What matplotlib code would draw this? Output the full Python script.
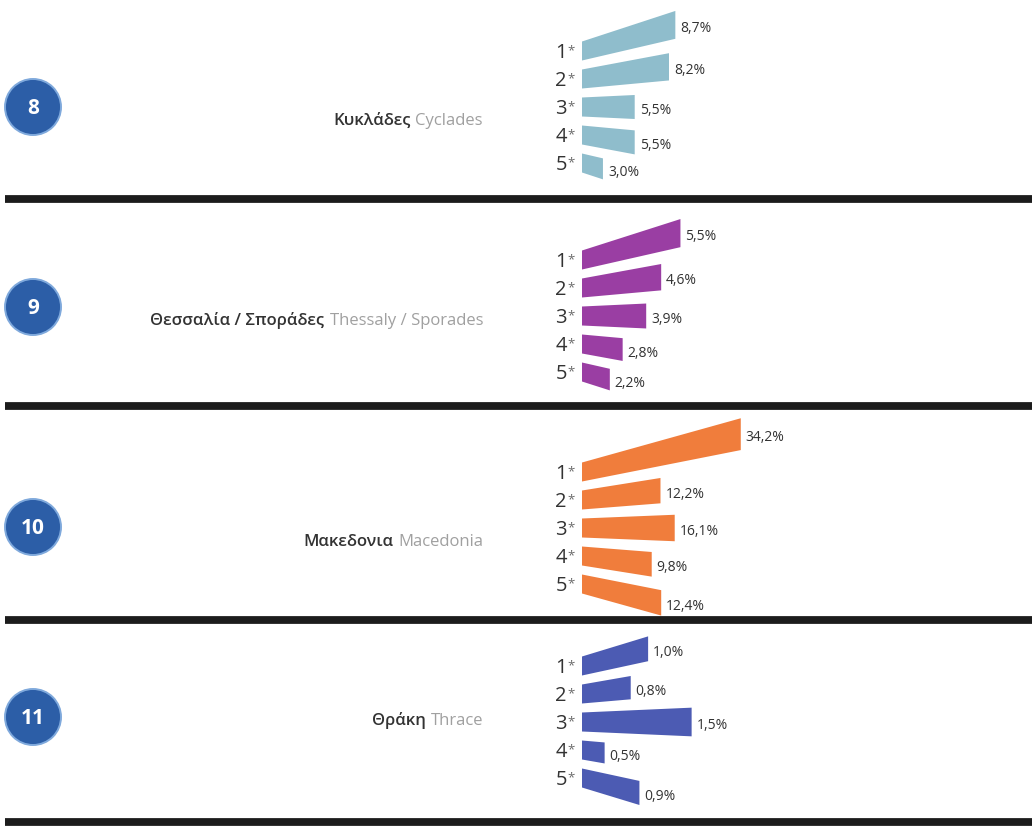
import matplotlib
matplotlib.use("Agg")
import matplotlib.pyplot as plt
from matplotlib.patches import Polygon, Circle

# ---- data -------------------------------------------------------------
region_ids = ["8", "9", "10", "11"]
regions_el = ["Κυκλάδες", "Θεσσαλία / Σποράδες", "Μακεδονια", "Θράκη"]
regions_en = ["Cyclades", "Thessaly / Sporades", "Macedonia", "Thrace"]
star_labels = ["1", "2", "3", "4", "5"]

share_cyclades = [8.7, 8.2, 5.5, 5.5, 3.0]
share_thessaly = [5.5, 4.6, 3.9, 2.8, 2.2]
share_macedonia = [34.2, 12.2, 16.1, 9.8, 12.4]
share_thrace = [1.0, 0.8, 1.5, 0.5, 0.9]

shares = [share_cyclades, share_thessaly, share_macedonia, share_thrace]
colors = ["#8fbdcc", "#9a3ea3", "#f07d3c", "#4c5bb3"]

# ---- layout (pixels) --------------------------------------------------
W, H, DPI = 1032, 826, 100
BAR_LEFT = 582          # x where every bar starts
BAR_GAP = 28            # spacing of bar centres at the left edge
BAR_HALF = 9.5          # half height of a bar at the left edge

fan_centre_y = [107, 316, 528, 722]
fan_depth = [200, 205, 235, 215]   # distance to each fan's vanishing point
badge_y = [107, 307, 527, 717]
name_baseline = [125, 325, 546, 725]
rule_y = [199, 406, 620, 822]

# per-panel value axis: pixels per percentage point and axis start
px_per_unit = [12.7, 21.4, 3.65, 87.0]
axis_start = [1.35, 0.9, -9.3, 0.24]

FONT = ["Open Sans", "DejaVu Sans"]
plt.rcParams["font.family"] = FONT

fig = plt.figure(figsize=(W / DPI, H / DPI), dpi=DPI)
fig.patch.set_facecolor("white")

bg = fig.add_axes([0, 0, 1, 1])
bg.set_xlim(0, W)
bg.set_ylim(H, 0)
bg.axis("off")

renderer = fig.canvas.get_renderer()


def fan_y(y_edge, centre, dx, depth):
    return centre + (y_edge - centre) * (1 + dx / depth)


for p in range(4):
    # separator rule
    bg.plot([5, W], [rule_y[p], rule_y[p]], color="#1c1c1c", lw=5.6,
            solid_capstyle="butt", zorder=2)

    # numbered badge
    bg.add_patch(Circle((33, badge_y[p]), 28, facecolor="#2c5ea7",
                        edgecolor="#7fa9dc", lw=1.4, zorder=3))
    bg.text(33, badge_y[p] + 7.5, region_ids[p], color="white", fontsize=15,
            fontweight="bold", ha="center", va="baseline", zorder=4)

    # region name: Greek (dark) followed by English (grey)
    t_en = bg.text(483, name_baseline[p], regions_en[p], color="#a0a0a0",
                   fontsize=12, ha="right", va="baseline")
    w_en = t_en.get_window_extent(renderer).width
    bg.text(483 - w_en - 5, name_baseline[p], regions_el[p], color="#333333",
            fontsize=12, fontweight="semibold", ha="right", va="baseline")

    # bars on their own value axis
    k = px_per_unit[p]
    x0 = axis_start[p]
    depth = fan_depth[p]
    ax = fig.add_axes([0, 0, 1, 1])
    ax.set_xlim(x0 - BAR_LEFT / k, x0 + (W - BAR_LEFT) / k)
    ax.set_ylim(H, 0)
    ax.axis("off")
    ax.patch.set_alpha(0)

    pc = fan_centre_y[p]
    for i, v in enumerate(shares[p]):
        yc = pc + (i - 2) * BAR_GAP
        top, bot = yc - BAR_HALF, yc + BAR_HALF
        dx = (v - x0) * k
        poly = Polygon([(x0, top), (v, fan_y(top, pc, dx, depth)),
                        (v, fan_y(bot, pc, dx, depth)), (x0, bot)],
                       closed=True, facecolor=colors[p], edgecolor="none")
        ax.add_patch(poly)
        ax.annotate(f"{v:.1f}".replace(".", ",") + "%",
                    xy=(v, fan_y(yc, pc, dx, depth)), xytext=(5, -7),
                    textcoords="offset pixels", ha="left", va="baseline",
                    fontsize=10, color="#333333")

        # star class label
        bg.text(567, yc + 7, star_labels[i], fontsize=14.5, color="#333333",
                ha="right", va="baseline")
        bg.text(567, yc + 3, "*", fontsize=9.5, color="#6a6a6a",
                ha="left", va="baseline")

fig.savefig("out.png", dpi=DPI, facecolor="white")
